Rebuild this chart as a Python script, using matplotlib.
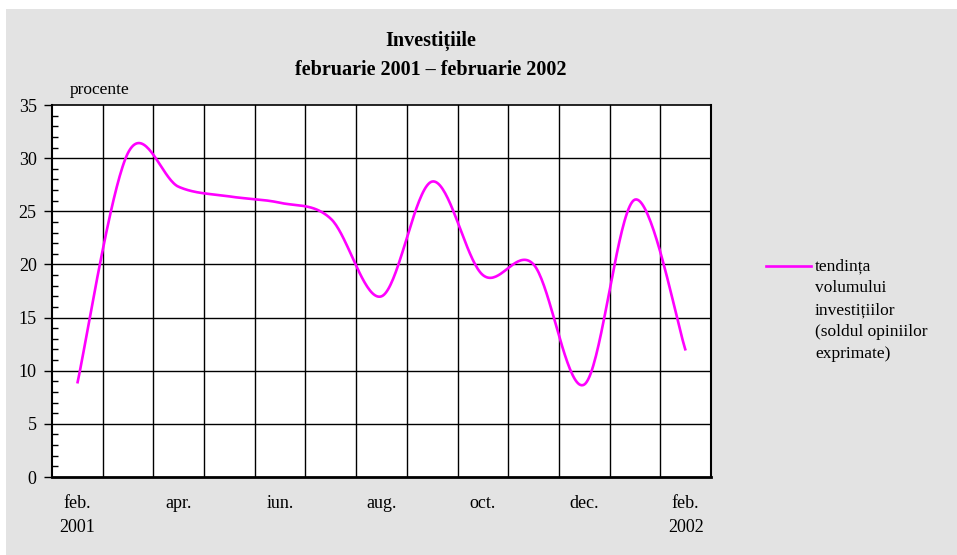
import numpy as np
import matplotlib
matplotlib.use("Agg")
import matplotlib.pyplot as plt
from matplotlib.patches import Rectangle
from matplotlib.lines import Line2D
from matplotlib.ticker import MultipleLocator

plt.rcParams['font.family'] = ['Liberation Serif', 'DejaVu Serif']

# ---- data ----
months = ["feb.", "mar.", "apr.", "mai", "iun.", "iul.", "aug.", "sep.",
          "oct.", "nov.", "dec.", "ian.", "feb."]
values = [8.8, 30.5, 27.3, 26.4, 25.8, 24.3, 17.0, 27.8, 19.0, 20.0, 8.7, 26.1, 11.9]
tick_labels = ["feb.\n2001", "", "apr.", "", "iun.", "", "aug.", "", "oct.", "",
               "dec.", "", "feb.\n2002"]
series_name = "tendința\nvolumului\ninvestițiilor\n(soldul opiniilor\nexprimate)"
title = "Investițiile\nfebruarie 2001 – februarie 2002"
ylabel = "procente"

W, H = 957, 555
fig = plt.figure(figsize=(W / 100, H / 100), dpi=100)
fig.patch.set_facecolor("white")
fig.patches.append(Rectangle((6 / W, 0), 1 - 6 / W, 1 - 9 / H, transform=fig.transFigure,
                             facecolor="#e3e3e3", edgecolor="none", zorder=-10))

L, R, T, B = 52, 711, 105, 477
ax = fig.add_axes([L / W, 1 - B / H, (R - L) / W, (B - T) / H])
ax.set_facecolor("white")

n = len(values)
xs = np.arange(n) + 0.5
ys = np.array(values, dtype=float)

# Catmull-Rom smoothing (Excel-style smoothed line) for drawing
px = np.concatenate([[xs[0]], xs, [xs[-1]]])
py = np.concatenate([[ys[0]], ys, [ys[-1]]])
cx, cy = [], []
t = np.linspace(0, 1, 40)
for i in range(1, n):
    p0, p1, p2, p3 = [np.array([px[j], py[j]]) for j in (i - 1, i, i + 1, i + 2)]
    b1 = p1 + (p2 - p0) / 6
    b2 = p2 - (p3 - p1) / 6
    pts = ((1 - t)[:, None] ** 3 * p1 + 3 * ((1 - t) ** 2 * t)[:, None] * b1
           + 3 * ((1 - t) * t ** 2)[:, None] * b2 + (t ** 3)[:, None] * p2)
    cx.extend(pts[:, 0]); cy.extend(pts[:, 1])
ax.plot(cx, cy, color="#ff00ff", lw=1.9, zorder=3, solid_capstyle="butt")

ax.set_xlim(0, n)
ax.set_ylim(0, 35)
ax.yaxis.set_major_locator(MultipleLocator(5))
ax.yaxis.set_minor_locator(MultipleLocator(1))
for v in range(5, 35, 5):
    ax.axhline(v, color="black", lw=1.0, zorder=1)
for k in range(1, n):
    ax.axvline(k, color="black", lw=1.0, zorder=1)

ax.set_xticks(xs)
ax.set_xticklabels(tick_labels, fontsize=13, linespacing=1.55, va="top")
ax.tick_params(axis="x", length=0, pad=13)
ax.tick_params(axis="y", which="major", direction="out", length=6, width=1,
               labelsize=13, pad=5)
ax.tick_params(axis="y", which="minor", direction="in", length=4, width=1)

for s in ax.spines.values():
    s.set_color("black")
ax.spines["left"].set_linewidth(1.5)
ax.spines["bottom"].set_linewidth(2.0)
ax.spines["top"].set_linewidth(1.2)
ax.spines["right"].set_linewidth(1.5)

fig.text(431 / W, 1 - 31 / H, title, ha="center", va="top", fontsize=14.5,
         fontweight="bold", linespacing=1.6)
fig.text(70 / W, 1 - 90 / H, ylabel, ha="left", va="center", fontsize=12.5)

# legend
fig.lines.append(Line2D([766 / W, 811 / W], [1 - 266 / H, 1 - 266 / H],
                        transform=fig.transFigure, color="#ff00ff", lw=1.9))
fig.text(815 / W, 1 - 258 / H, series_name, ha="left", va="top", fontsize=12.5,
         linespacing=1.5)

fig.savefig("out.png", dpi=100, facecolor=fig.get_facecolor())
